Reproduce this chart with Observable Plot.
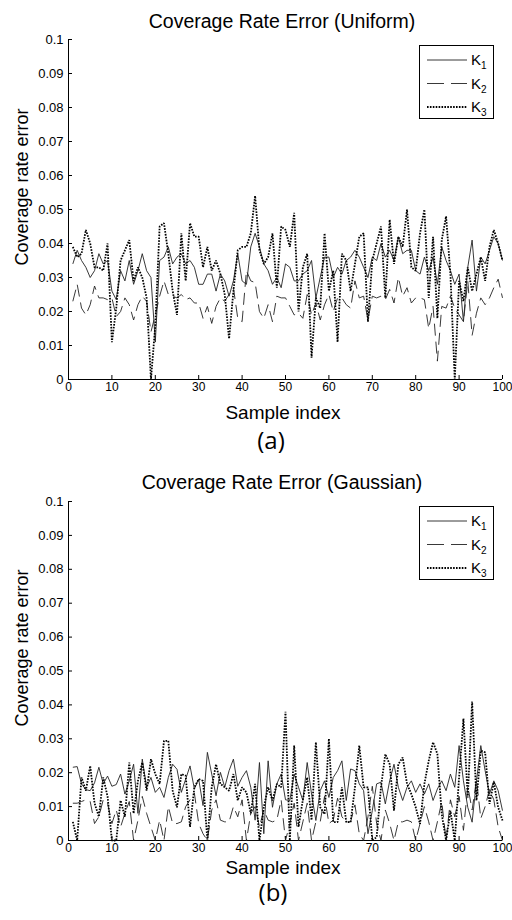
<!DOCTYPE html>
<html><head><meta charset="utf-8">
<script src="https://cdn.jsdelivr.net/npm/d3@7"></script>
<script src="https://cdn.jsdelivr.net/npm/@observablehq/plot@0.6"></script>
<style>
body{margin:0;background:#fff;}
#root{position:relative;width:512px;height:920px;overflow:hidden;font-family:"Liberation Sans",Arial,sans-serif;color:#000;background:#fff;}
.abs{position:absolute;white-space:nowrap;line-height:1;}
</style></head><body><div id="root"></div>
<script>
// ---------- data ----------
const xTicks = [0,10,20,30,40,50,60,70,80,90,100];
const yTicks = [0,0.01,0.02,0.03,0.04,0.05,0.06,0.07,0.08,0.09,0.1];
const seriesNames = ["K","K","K"];
const seriesSubs = ["1","2","3"];
const panelTitles = ["Coverage Rate Error (Uniform)","Coverage Rate Error (Gaussian)"];
const panelLabels = ["(a)","(b)"];
const xLabel = "Sample index";
const yLabel = "Coverage rate error";

const uniformK1 = [0.034,0.038,0.035,0.033,0.030,0.032,0.037,0.034,0.035,0.026,
0.0235,0.032,0.029,0.035,0.028,0.032,0.037,0.032,0.030,0.011,
0.035,0.036,0.039,0.034,0.036,0.037,0.034,0.035,0.033,0.028,
0.028,0.031,0.031,0.026,0.031,0.029,0.0245,0.029,0.037,0.029,
0.028,0.039,0.043,0.039,0.034,0.032,0.028,0.030,0.027,0.034,
0.033,0.029,0.029,0.031,0.032,0.035,0.024,0.030,0.036,0.036,
0.030,0.033,0.031,0.035,0.036,0.038,0.036,0.033,0.030,0.036,
0.035,0.040,0.036,0.038,0.035,0.042,0.037,0.038,0.038,0.032,
0.031,0.036,0.032,0.036,0.028,0.039,0.035,0.032,0.028,0.031,
0.017,0.033,0.041,0.026,0.036,0.034,0.038,0.042,0.040,0.035];
const uniformK2 = [0.023,0.028,0.021,0.019,0.022,0.0275,0.024,0.024,0.0235,0.024,
0.0185,0.020,0.024,0.022,0.0175,0.022,0.0245,0.023,0.014,0.019,
0.0245,0.029,0.025,0.0245,0.024,0.025,0.0235,0.024,0.0225,0.0225,
0.018,0.0215,0.0165,0.0215,0.024,0.023,0.025,0.027,0.018,0.017,
0.032,0.029,0.0285,0.020,0.018,0.022,0.017,0.0245,0.024,0.024,
0.0215,0.019,0.0195,0.018,0.025,0.019,0.0225,0.0175,0.022,0.025,
0.020,0.024,0.024,0.022,0.021,0.029,0.024,0.0245,0.0175,0.0245,
0.024,0.0245,0.0235,0.0265,0.0225,0.030,0.0245,0.027,0.0225,0.024,
0.024,0.0235,0.015,0.0215,0.0054,0.0215,0.021,0.0245,0.021,0.019,
0.017,0.029,0.013,0.0195,0.024,0.022,0.024,0.027,0.0295,0.024];
const uniformK3 = [0.039,0.036,0.037,0.044,0.040,0.033,0.033,0.032,0.040,0.011,
0.021,0.035,0.038,0.041,0.029,0.033,0.030,0.024,0.0,0.016,
0.045,0.046,0.037,0.026,0.019,0.043,0.029,0.046,0.042,0.042,
0.033,0.039,0.032,0.035,0.031,0.025,0.012,0.026,0.038,0.039,
0.039,0.043,0.054,0.038,0.034,0.036,0.043,0.027,0.045,0.044,
0.039,0.049,0.020,0.033,0.037,0.0064,0.024,0.021,0.043,0.026,
0.032,0.011,0.037,0.035,0.026,0.034,0.042,0.043,0.017,0.035,
0.040,0.045,0.024,0.047,0.034,0.042,0.039,0.050,0.033,0.032,
0.043,0.050,0.024,0.042,0.018,0.041,0.048,0.031,0.0,0.029,
0.023,0.033,0.026,0.031,0.036,0.029,0.039,0.044,0.040,0.035];

const gaussK1 = [0.0216,0.0218,0.0167,0.015,0.0147,0.017,0.0216,0.0167,0.019,0.016,
0.0165,0.0196,0.0137,0.0176,0.0225,0.008,0.024,0.0157,0.0186,0.0142,
0.0157,0.0127,0.0186,0.0225,0.021,0.0142,0.0181,0.022,0.0152,0.0181,
0.0103,0.026,0.0196,0.0132,0.0201,0.0157,0.0206,0.024,0.016,0.0186,
0.0206,0.0157,0.006,0.023,0.002,0.0235,0.0098,0.0167,0.0196,0.012,
0.0118,0.0196,0.0157,0.0118,0.023,0.0137,0.0059,0.0147,0.0176,0.0127,
0.0186,0.0206,0.0235,0.0118,0.0211,0.0206,0.0167,0.0147,0.002,0.0088,
0.0167,0.0172,0.0108,0.0176,0.0225,0.0157,0.0118,0.0157,0.0176,0.0142,
0.0167,0.0137,0.0167,0.0118,0.0152,0.0176,0.0147,0.0196,0.0157,0.028,
0.0176,0.0098,0.0054,0.0176,0.028,0.0206,0.0137,0.0176,0.0147,0.0088];
const gaussK2 = [0.011,0.011,0.0115,0.012,0.0115,0.005,0.007,0.012,0.011,0.005,
0.009,0.004,0.008,0.0115,0.0,0.006,0.013,0.008,0.004,0.0,
0.006,0.0,0.010,0.005,0.005,0.0055,0.010,0.012,0.014,0.005,
0.002,0.0,0.009,0.012,0.006,0.0055,0.0055,0.010,0.007,0.012,
0.0,0.008,0.010,0.004,0.009,0.006,0.0055,0.006,0.012,0.0,
0.005,0.011,0.0,0.0055,0.011,0.0,0.0055,0.0055,0.013,0.005,
0.006,0.0125,0.007,0.0055,0.0055,0.0105,0.002,0.0,0.007,0.016,
0.005,0.0,0.009,0.005,0.0,0.0055,0.0055,0.006,0.0055,0.0,
0.005,0.010,0.0055,0.0,0.0055,0.0115,0.0,0.012,0.007,0.013,
0.003,0.016,0.009,0.018,0.0065,0.010,0.015,0.012,0.004,0.0];
const gaussK3 = [0.0055,0.0,0.0186,0.0147,0.022,0.011,0.007,0.0186,0.013,0.0,
0.0,0.0118,0.007,0.023,0.008,0.0176,0.023,0.0147,0.024,0.0196,
0.0167,0.0294,0.0294,0.0147,0.0098,0.0196,0.0191,0.004,0.0157,0.0181,
0.0176,0.0,0.0157,0.0225,0.0167,0.0157,0.0147,0.0196,0.0118,0.0157,
0.0142,0.008,0.0167,0.0,0.0098,0.0157,0.0118,0.0167,0.0157,0.038,
0.0,0.028,0.004,0.012,0.0186,0.006,0.029,0.0098,0.0078,0.030,
0.0054,0.0054,0.0157,0.0054,0.0054,0.0157,0.028,0.0157,0.0157,0.0,
0.001,0.0157,0.0255,0.0225,0.0088,0.0225,0.0245,0.0167,0.0137,0.0098,
0.0049,0.0167,0.0235,0.029,0.0255,0.0078,0.0,0.0088,0.0,0.0186,
0.036,0.0127,0.041,0.0118,0.0265,0.026,0.0108,0.0172,0.0098,0.0059];

// ---------- styles / layout ----------
const lineStyles = [
  {stroke:"#222", width:0.9, dash:null, legDash:null},
  {stroke:"#222", width:0.9, dash:"12,6", legDash:"17,7"},
  {stroke:"#000", width:1.8, dash:"1.6,1.3", legDash:"1.6,1.3"}
];
const W = 512, H = 460, ML = 68, MR = 10;
const panels = [
  {series:[uniformK1,uniformK2,uniformK3], top:0, mt:39, mb:81, titleY:22, xlabY:412, tagY:440, tagX:271, ylabY:187, legTop:45},
  {series:[gaussK1,gaussK2,gaussK3], top:460, mt:41, mb:80, titleY:483, xlabY:867, tagY:892, tagX:273, ylabY:648, legTop:506}
];
const fmt = d => String(+d.toFixed(2));
const root = document.getElementById("root");

function addText(txt, x, y, css, rotate){
  const d = document.createElement("div");
  d.className = "abs";
  d.textContent = txt;
  d.style.left = x + "px"; d.style.top = y + "px";
  d.style.transform = "translate(-50%,-50%)" + (rotate ? " rotate(-90deg)" : "");
  Object.assign(d.style, css);
  root.appendChild(d);
}

panels.forEach((p, pi) => {
  const frameW = W - ML - MR, frameH = H - p.mt - p.mb;
  const marks = [
    Plot.axisX(xTicks, {tickSize:0, tickPadding:3, tickFormat:d=>String(d), fontSize:12, label:null}),
    Plot.axisY(yTicks, {tickSize:0, tickPadding:5, tickFormat:fmt, fontSize:13, label:null}),
    Plot.tickX(xTicks, {x:d=>d, insetTop:frameH-4, stroke:"#000"}),
    Plot.tickY(yTicks, {y:d=>d, insetRight:frameW-4, stroke:"#000"}),
    Plot.ruleX([0], {stroke:"#000"}),
    Plot.ruleY([0], {stroke:"#000"})
  ];
  p.series.forEach((vals, k) => {
    const st = lineStyles[k];
    marks.push(Plot.line(vals, {x:(d,i)=>i+1, y:d=>d, stroke:st.stroke, strokeWidth:st.width,
      strokeDasharray:st.dash, strokeLinejoin:"miter", strokeLinecap:"butt"}));
  });
  const svg = Plot.plot({
    width:W, height:H, marginLeft:ML, marginRight:MR, marginTop:p.mt, marginBottom:p.mb,
    x:{domain:[0,100]}, y:{domain:[0,0.1]},
    style:{fontFamily:'"Liberation Sans",Arial,sans-serif', color:"#000", background:"transparent", overflow:"visible"},
    marks
  });
  svg.style.position = "absolute"; svg.style.left = "0px"; svg.style.top = p.top + "px";
  root.appendChild(svg);

  addText(panelTitles[pi], 282, p.titleY, {fontSize:"19.5px"});
  addText(xLabel, 283, p.xlabY, {fontSize:"19px"});
  addText(panelLabels[pi], p.tagX, p.tagY, {fontSize:"24px", fontFamily:'"Open Sans",sans-serif'});
  addText(yLabel, 22, p.ylabY, {fontSize:"18px"}, true);

  // legend
  const lg = d3.select(root).append("svg").attr("class","abs")
    .style("left","419px").style("top", p.legTop + "px")
    .attr("width",76).attr("height",75);
  lg.append("rect").attr("x",0.5).attr("y",0.5).attr("width",74).attr("height",73)
    .attr("fill","#fff").attr("stroke","#000");
  lineStyles.forEach((st, k) => {
    const y = 15 + k*23.5;
    lg.append("line").attr("x1",8).attr("x2",48).attr("y1",y).attr("y2",y)
      .attr("stroke",st.stroke).attr("stroke-width",st.width)
      .attr("stroke-dasharray",st.legDash);
    const t = lg.append("text").attr("x",52).attr("y",y+5)
      .attr("font-family",'"Liberation Sans",Arial,sans-serif').attr("font-size",15).text(seriesNames[k]);
    t.append("tspan").attr("font-size",10).attr("dy",4).text(seriesSubs[k]);
  });
});
</script></body></html>
